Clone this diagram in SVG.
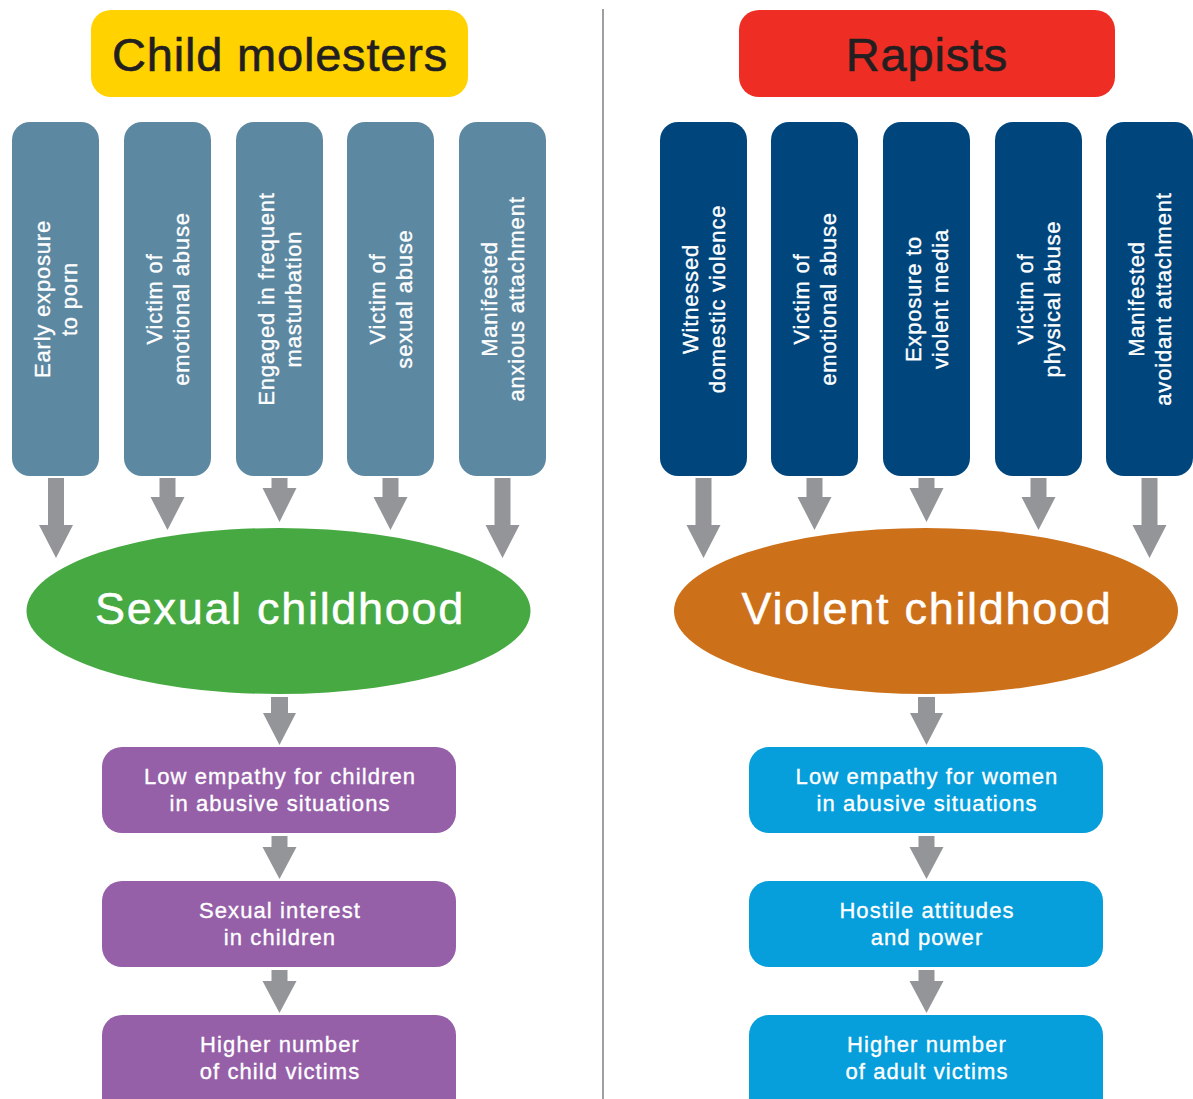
<svg xmlns="http://www.w3.org/2000/svg" width="1193" height="1099" viewBox="0 0 1193 1099">
<defs>
<style>
text{font-family:"Liberation Sans",Arial,sans-serif;}
.title{font-size:47px;fill:#231f20;stroke:#231f20;stroke-width:0.6px;text-anchor:middle;letter-spacing:0.8px;}
.vt{font-size:22px;fill:#fff;stroke:#fff;stroke-width:0.35px;text-anchor:middle;letter-spacing:0.8px;}
.ell{font-size:45px;fill:#fff;stroke:#fff;stroke-width:0.5px;text-anchor:middle;letter-spacing:1.7px;}
.bt{font-size:22px;fill:#fff;stroke:#fff;stroke-width:0.35px;text-anchor:middle;letter-spacing:1.1px;}
.steel{fill:#5d88a1;}
.navy{fill:#00467d;}
.purple{fill:#9560a8;}
.cyan{fill:#069edb;}
.arr{fill:#939598;}
</style>
<path id="aLong" d="M-8,0 H8 V47 H17 L0,80 L-17,47 H-8 Z"/>
<path id="aMid" d="M-8,0 H8 V19 H17 L0,52 L-17,19 H-8 Z"/>
<path id="aShort" d="M-8,0 H8 V10 H17 L0,44 L-17,10 H-8 Z"/>
<path id="aDown" d="M-8,0 H8 V11 H17 L0,43 L-17,11 H-8 Z"/>
</defs>

<line x1="603" y1="9" x2="603" y2="1099" stroke="#9d9fa2" stroke-width="2"/>

<g id="title-left"><rect x="91" y="10" width="377" height="87" rx="20" fill="#ffd200"/><text class="title" x="280" y="71">Child molesters</text></g>
<g id="title-right"><rect x="739" y="10" width="376" height="87" rx="20" fill="#ee2e24"/><text class="title" x="927" y="71">Rapists</text></g>

<g id="cm1"><rect class="steel" x="12" y="122" width="87" height="354" rx="18"/><text class="vt" transform="translate(55.5,299) rotate(-90)"><tspan x="0" y="-5.5">Early exposure</tspan><tspan x="0" y="21.5">to porn</tspan></text></g>
<g id="cm2"><rect class="steel" x="124" y="122" width="87" height="354" rx="18"/><text class="vt" transform="translate(167.5,299) rotate(-90)"><tspan x="0" y="-5.5">Victim of</tspan><tspan x="0" y="21.5">emotional abuse</tspan></text></g>
<g id="cm3"><rect class="steel" x="236" y="122" width="87" height="354" rx="18"/><text class="vt" transform="translate(279.5,299) rotate(-90)"><tspan x="0" y="-5.5">Engaged in frequent</tspan><tspan x="0" y="21.5">masturbation</tspan></text></g>
<g id="cm4"><rect class="steel" x="347" y="122" width="87" height="354" rx="18"/><text class="vt" transform="translate(390.5,299) rotate(-90)"><tspan x="0" y="-5.5">Victim of</tspan><tspan x="0" y="21.5">sexual abuse</tspan></text></g>
<g id="cm5"><rect class="steel" x="459" y="122" width="87" height="354" rx="18"/><text class="vt" transform="translate(502.5,299) rotate(-90)"><tspan x="0" y="-5.5">Manifested</tspan><tspan x="0" y="21.5">anxious attachment</tspan></text></g>

<g id="r1"><rect class="navy" x="660" y="122" width="87" height="354" rx="18"/><text class="vt" transform="translate(703.5,299) rotate(-90)"><tspan x="0" y="-5.5">Witnessed</tspan><tspan x="0" y="21.5">domestic violence</tspan></text></g>
<g id="r2"><rect class="navy" x="771" y="122" width="87" height="354" rx="18"/><text class="vt" transform="translate(814.5,299) rotate(-90)"><tspan x="0" y="-5.5">Victim of</tspan><tspan x="0" y="21.5">emotional abuse</tspan></text></g>
<g id="r3"><rect class="navy" x="883" y="122" width="87" height="354" rx="18"/><text class="vt" transform="translate(926.5,299) rotate(-90)"><tspan x="0" y="-5.5">Exposure to</tspan><tspan x="0" y="21.5">violent media</tspan></text></g>
<g id="r4"><rect class="navy" x="995" y="122" width="87" height="354" rx="18"/><text class="vt" transform="translate(1038.5,299) rotate(-90)"><tspan x="0" y="-5.5">Victim of</tspan><tspan x="0" y="21.5">physical abuse</tspan></text></g>
<g id="r5"><rect class="navy" x="1106" y="122" width="87" height="354" rx="18"/><text class="vt" transform="translate(1149.5,299) rotate(-90)"><tspan x="0" y="-5.5">Manifested</tspan><tspan x="0" y="21.5">avoidant attachment</tspan></text></g>

<g id="connectors" class="arr">
<use href="#aLong" x="56" y="478"/>
<use href="#aMid" x="167.5" y="478"/>
<use href="#aShort" x="279.5" y="478"/>
<use href="#aMid" x="390.5" y="478"/>
<use href="#aLong" x="502.5" y="478"/>
<use href="#aLong" x="703.5" y="478"/>
<use href="#aMid" x="814.5" y="478"/>
<use href="#aShort" x="926.5" y="478"/>
<use href="#aMid" x="1038.5" y="478"/>
<use href="#aLong" x="1149.5" y="478"/>
<path d="M271,697 H288 V713 H296 L279.5,745 L263,713 H271 Z"/>
<use href="#aDown" x="279.5" y="836"/>
<use href="#aDown" x="279.5" y="970"/>
<path d="M918,697 H935 V713 H943 L926.5,745 L910,713 H918 Z"/>
<use href="#aDown" x="926.5" y="836"/>
<use href="#aDown" x="926.5" y="970"/>
</g>

<g id="sexual-childhood"><ellipse cx="278.5" cy="611" rx="252" ry="83" fill="#46a942"/><text class="ell" x="280" y="624">Sexual childhood</text></g>
<g id="violent-childhood"><ellipse cx="926" cy="611" rx="252" ry="83" fill="#cd701a"/><text class="ell" x="927" y="624">Violent childhood</text></g>

<g id="cm-b1"><rect class="purple" x="102" y="747" width="354" height="86" rx="20"/><text class="bt"><tspan x="280" y="784">Low empathy for children</tspan><tspan x="280" y="811">in abusive situations</tspan></text></g>
<g id="cm-b2"><rect class="purple" x="102" y="881" width="354" height="86" rx="20"/><text class="bt"><tspan x="280" y="918">Sexual interest</tspan><tspan x="280" y="945">in children</tspan></text></g>
<g id="cm-b3"><rect class="purple" x="102" y="1015" width="354" height="110" rx="20"/><text class="bt"><tspan x="280" y="1052">Higher number</tspan><tspan x="280" y="1079">of child victims</tspan></text></g>

<g id="r-b1"><rect class="cyan" x="749" y="747" width="354" height="86" rx="20"/><text class="bt"><tspan x="927" y="784">Low empathy for women</tspan><tspan x="927" y="811">in abusive situations</tspan></text></g>
<g id="r-b2"><rect class="cyan" x="749" y="881" width="354" height="86" rx="20"/><text class="bt"><tspan x="927" y="918">Hostile attitudes</tspan><tspan x="927" y="945">and power</tspan></text></g>
<g id="r-b3"><rect class="cyan" x="749" y="1015" width="354" height="110" rx="20"/><text class="bt"><tspan x="927" y="1052">Higher number</tspan><tspan x="927" y="1079">of adult victims</tspan></text></g>
</svg>
